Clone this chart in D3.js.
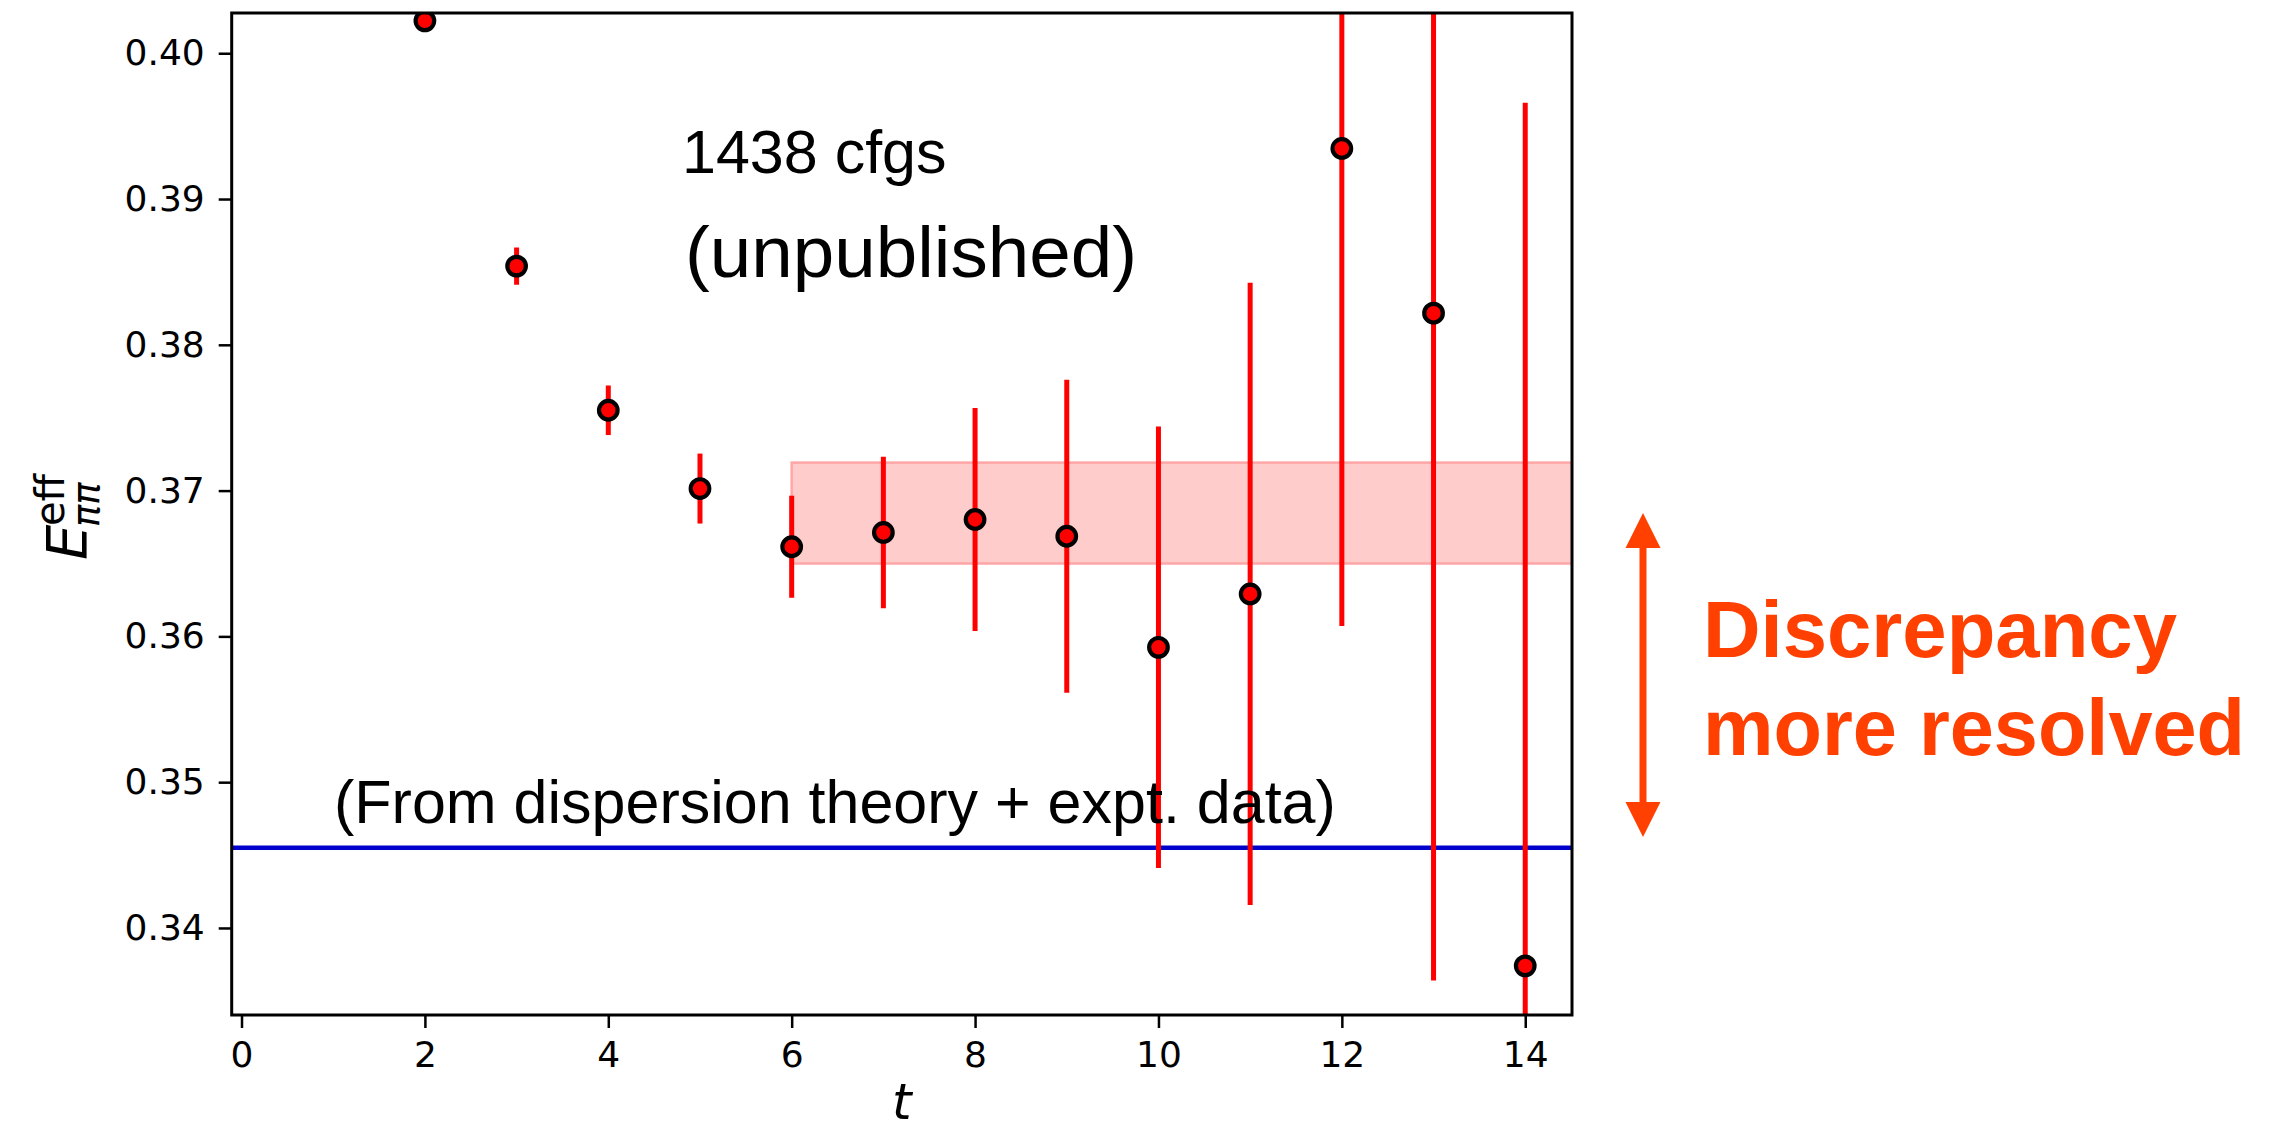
<!DOCTYPE html>
<html><head><meta charset="utf-8">
<script src="https://cdn.jsdelivr.net/npm/d3@7"></script>
<style>html,body{margin:0;padding:0;background:#fff;}svg{display:block;}</style>
</head><body>
<svg id="c" width="2295" height="1132"></svg>
<script>
// ---- data ----
const tValues = [2, 3, 4, 5, 6, 7, 8, 9, 10, 11, 12, 13, 14];
const energy  = [0.40222, 0.38540, 0.37551, 0.37014, 0.36615, 0.36713, 0.36802, 0.36687, 0.35925, 0.36291, 0.39347, 0.38217, 0.33740];
const errors  = [0.0002, 0.00128, 0.0017, 0.0024, 0.0035, 0.0052, 0.00765, 0.01074, 0.01514, 0.02134, 0.03275, 0.04577, 0.05921];
const bandRange = [0.36500, 0.37192];
const bandStartT = 6;
const dispersionValue = 0.34550;
const xTicks = [0, 2, 4, 6, 8, 10, 12, 14];
const yTicks = [0.34, 0.35, 0.36, 0.37, 0.38, 0.39, 0.40];
const xDomain = [-0.107, 14.51];
const yDomain = [0.33403, 0.40276];
const arrowRange = [0.34624, 0.36846]; // vertical extent of double arrow (data units)

const svg = d3.select("#c");
const L = 231.7, R = 1572, T = 13, B = 1015;
const x = d3.scaleLinear().domain(xDomain).range([L, R]);
const y = d3.scaleLinear().domain(yDomain).range([B, T]);

svg.append("defs").append("clipPath").attr("id", "clip")
  .append("rect").attr("x", L).attr("y", T).attr("width", R - L).attr("height", B - T);

const plot = svg.append("g").attr("clip-path", "url(#clip)");

// band
plot.append("rect")
  .attr("x", x(bandStartT)).attr("y", y(bandRange[1]))
  .attr("width", R - x(bandStartT) + 10).attr("height", y(bandRange[0]) - y(bandRange[1]))
  .attr("fill", "#ffcccc").attr("stroke", "#ffa6a6").attr("stroke-width", 2.5);

// dispersion line
plot.append("line")
  .attr("x1", L).attr("x2", R).attr("y1", y(dispersionValue)).attr("y2", y(dispersionValue))
  .attr("stroke", "#0000cc").attr("stroke-width", 4.5);

const pts = tValues.map((t, i) => ({t, e: energy[i], err: errors[i]}));

// error bars
plot.selectAll("line.err").data(pts).enter().append("line").attr("class", "err")
  .attr("x1", d => x(d.t)).attr("x2", d => x(d.t))
  .attr("y1", d => y(d.e - d.err)).attr("y2", d => y(d.e + d.err))
  .attr("stroke", "#ff0000").attr("stroke-width", 5);

// markers
plot.selectAll("circle.pt").data(pts).enter().append("circle").attr("class", "pt")
  .attr("cx", d => x(d.t)).attr("cy", d => y(d.e)).attr("r", 9.3)
  .attr("fill", "#ff0000").attr("stroke", "#000").attr("stroke-width", 4.2);

// frame
svg.append("rect").attr("x", L).attr("y", T).attr("width", R - L).attr("height", B - T)
  .attr("fill", "none").attr("stroke", "#000").attr("stroke-width", 3);

// axes
const fmtY = d3.format(".2f");
const yAxis = svg.append("g").attr("transform", `translate(${L},0)`)
  .call(d3.axisLeft(y).tickValues(yTicks).tickFormat(fmtY).tickSize(13).tickSizeOuter(0).tickPadding(14));
const xAxis = svg.append("g").attr("transform", `translate(0,${B})`)
  .call(d3.axisBottom(x).tickValues(xTicks).tickFormat(d3.format("d")).tickSize(13).tickSizeOuter(0).tickPadding(13));
[yAxis, xAxis].forEach(g => {
  g.select(".domain").remove();
  g.selectAll(".tick line").attr("stroke", "#000").attr("stroke-width", 2.5);
  g.selectAll(".tick text").attr("fill", "#000")
    .style("font-family", "'DejaVu Sans', sans-serif").style("font-size", "36px");
});

// axis labels
svg.append("text").attr("x", (L + R) / 2).attr("y", 1119).attr("text-anchor", "middle")
  .style("font-family", "'DejaVu Sans', sans-serif").style("font-style", "italic").style("font-size", "50px")
  .text("t");

svg.append("text").attr("transform", "translate(86,560) rotate(-90)")
  .style("font-family", "'DejaVu Sans', sans-serif").style("font-style", "italic").style("font-size", "56px")
  .text("E");
svg.append("text").attr("transform", "translate(99,527) rotate(-90)")
  .style("font-family", "'DejaVu Sans', sans-serif").style("font-style", "italic").style("font-size", "37px")
  .text("ππ");
svg.append("text").attr("transform", "translate(64,526) rotate(-90)")
  .style("font-family", "'DejaVu Sans', sans-serif").style("font-size", "40px")
  .text("eff");

// annotations
const ann = svg.append("g").style("font-family", "'Liberation Sans', Arial, sans-serif").attr("fill", "#000");
ann.append("text").attr("x", 682).attr("y", 172.7).style("font-size", "61px").text("1438 cfgs");
ann.append("text").attr("x", 685).attr("y", 277).style("font-size", "72px")
  .attr("textLength", 452).attr("lengthAdjust", "spacingAndGlyphs").text("(unpublished)");
ann.append("text").attr("x", 334).attr("y", 822.7).style("font-size", "61px")
  .text("(From dispersion theory + expt. data)");

// discrepancy arrow
const orange = "#ff4000";
const ax = 1643;
const yTop = y(arrowRange[1]), yBot = y(arrowRange[0]);
const head = 35, hw = 17.5;
svg.append("line").attr("x1", ax).attr("x2", ax).attr("y1", yTop + head - 2).attr("y2", yBot - head + 2)
  .attr("stroke", orange).attr("stroke-width", 7);
svg.append("path").attr("d", `M${ax},${yTop} L${ax - hw},${yTop + head} L${ax + hw},${yTop + head} Z`).attr("fill", orange);
svg.append("path").attr("d", `M${ax},${yBot} L${ax - hw},${yBot - head} L${ax + hw},${yBot - head} Z`).attr("fill", orange);

const dt = svg.append("g").style("font-family", "'Liberation Sans', Arial, sans-serif")
  .style("font-weight", "bold").style("font-size", "80px").attr("fill", orange);
dt.append("text").attr("x", 1703).attr("y", 656.7).attr("textLength", 474).attr("lengthAdjust", "spacingAndGlyphs").text("Discrepancy");
dt.append("text").attr("x", 1703).attr("y", 755).attr("textLength", 542).attr("lengthAdjust", "spacingAndGlyphs").text("more resolved");
</script>
</body></html>
